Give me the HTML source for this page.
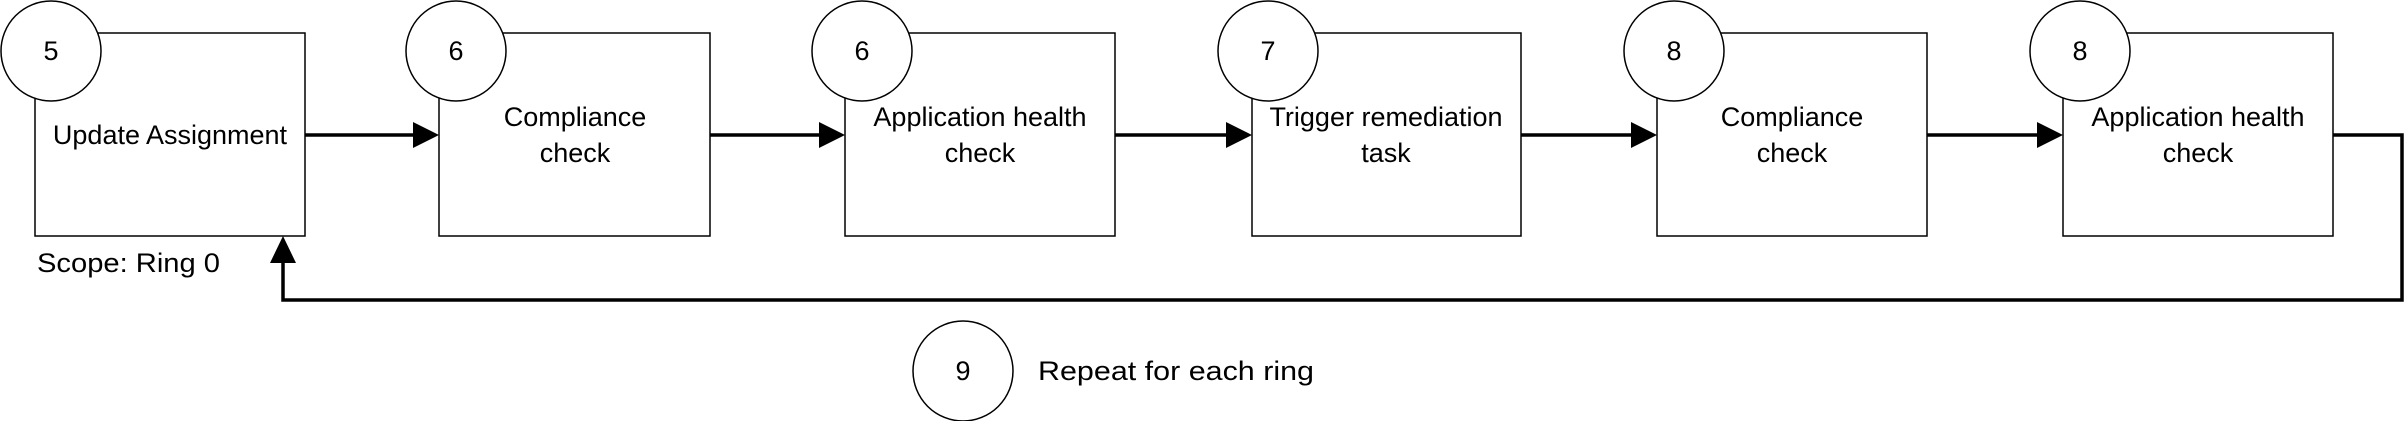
<!DOCTYPE html>
<html><head><meta charset="utf-8"><style>
html,body{margin:0;padding:0;background:#fff;}
svg{display:block;}
text{font-family:"Liberation Sans",sans-serif;font-size:27px;fill:#000;}
</style></head><body>
<svg width="2407" height="421" viewBox="0 0 2407 421" xmlns="http://www.w3.org/2000/svg">
<g fill="#fff" stroke="#000" stroke-width="1.5">
<rect x="35" y="33" width="270" height="203"/>
<rect x="439" y="33" width="271" height="203"/>
<rect x="845" y="33" width="270" height="203"/>
<rect x="1252" y="33" width="269" height="203"/>
<rect x="1657" y="33" width="270" height="203"/>
<rect x="2063" y="33" width="270" height="203"/>
<circle cx="51" cy="51" r="50"/>
<circle cx="456" cy="51" r="50"/>
<circle cx="862" cy="51" r="50"/>
<circle cx="1268" cy="51" r="50"/>
<circle cx="1674" cy="51" r="50"/>
<circle cx="2080" cy="51" r="50"/>
<circle cx="963" cy="371" r="50"/>
</g>
<g stroke="#000" stroke-width="3.5" fill="none">
<line x1="305" y1="135" x2="414" y2="135"/>
<line x1="710" y1="135" x2="820" y2="135"/>
<line x1="1115" y1="135" x2="1227" y2="135"/>
<line x1="1521" y1="135" x2="1632" y2="135"/>
<line x1="1927" y1="135" x2="2038" y2="135"/>
<polyline points="2333,135 2402,135 2402,300 283,300 283,262"/>
</g>
<g fill="#000">
<polygon points="439,135 413,122 413,148"/>
<polygon points="845,135 819,122 819,148"/>
<polygon points="1252,135 1226,122 1226,148"/>
<polygon points="1657,135 1631,122 1631,148"/>
<polygon points="2063,135 2037,122 2037,148"/>
<polygon points="283,236 270,263 296,263"/>
</g>
<g text-anchor="middle" dominant-baseline="central">
<text x="51" y="51">5</text>
<text x="456" y="51">6</text>
<text x="862" y="51">6</text>
<text x="1268" y="51">7</text>
<text x="1674" y="51">8</text>
<text x="2080" y="51">8</text>
<text x="963" y="371">9</text>
<text x="170" y="135">Update Assignment</text>
<text x="575" y="117">Compliance</text><text x="575" y="153">check</text>
<text x="980" y="117">Application health</text><text x="980" y="153">check</text>
<text x="1386" y="117">Trigger remediation</text><text x="1386" y="153">task</text>
<text x="1792" y="117">Compliance</text><text x="1792" y="153">check</text>
<text x="2198" y="117">Application health</text><text x="2198" y="153">check</text>
</g>
<g dominant-baseline="central" style="font-size:28px">
<text x="37" y="263" textLength="183" lengthAdjust="spacingAndGlyphs">Scope: Ring 0</text>
<text x="1038" y="371" textLength="276" lengthAdjust="spacingAndGlyphs">Repeat for each ring</text>
</g>
</svg>
</body></html>
